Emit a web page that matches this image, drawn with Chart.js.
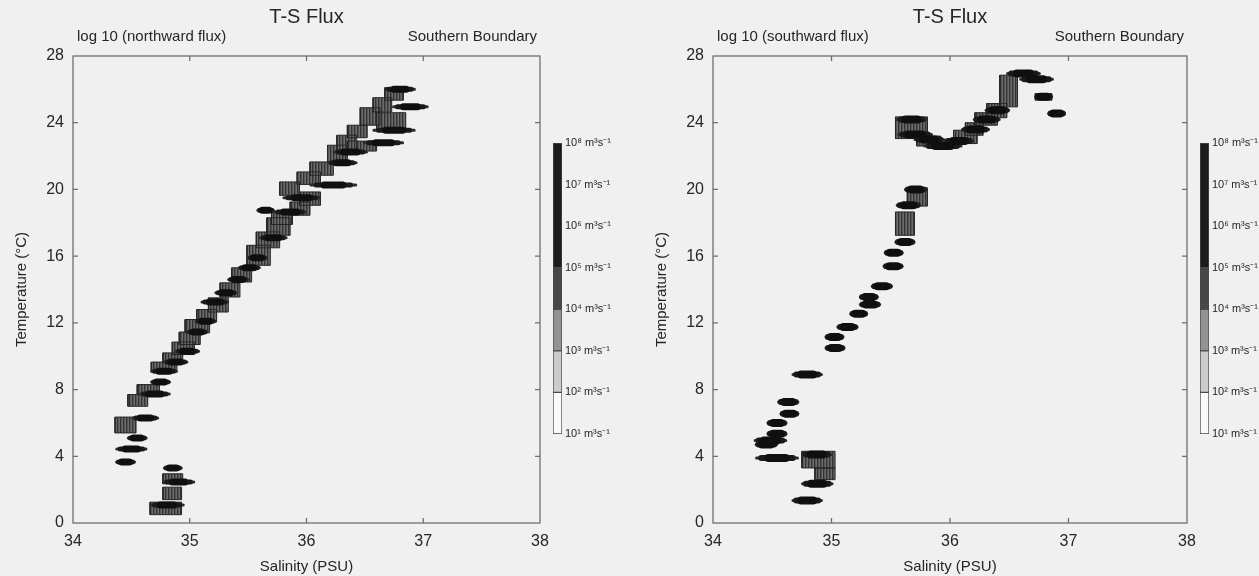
<!DOCTYPE html>
<html>
<head>
<meta charset="utf-8">
<title>T-S Flux</title>
<script src="https://cdn.jsdelivr.net/npm/chart.js@4.4.1/dist/chart.umd.min.js"></script>
<style>
  html, body { margin: 0; padding: 0; background: #f0f0f0; }
  #wrap { position: relative; width: 1259px; height: 576px; overflow: hidden; }
  #wrap canvas { position: absolute; }
</style>
</head>
<body>
<div id="wrap">
  <canvas id="northMain" width="630" height="576" style="left:0;top:0"></canvas>
  <canvas id="northBar" width="90" height="320" style="left:540px;top:128px"></canvas>
  <canvas id="southMain" width="619" height="576" style="left:640px;top:0"></canvas>
  <canvas id="southBar" width="72" height="320" style="left:1187px;top:128px"></canvas>
</div>
<script>
// axis ranges
const SAL_RANGE = [34, 38];
const TEMP_RANGE = [0, 28];
const SAL_STEP = 1;
const TEMP_STEP = 4;

// colour bar levels (m3/s)
const CBAR_LEVELS = [1e1, 1e2, 1e3, 1e4, 1e5, 1e6, 1e7, 1e8];
const CBAR_BANDS = [[1e1, 1e2], [1e2, 1e3], [1e3, 1e4], [1e4, 1e5], [1e5, 1e8]];
const CBAR_COLORS = ['#fafafa', '#cbcbcb', '#929292', '#474747', '#1c1c1c'];

// northward flux: shaded cells [salMin, salMax, tempMin, tempMax]
const NORTH_BOXES = [
  [34.66, 34.93, 0.5, 1.25], [34.77, 34.93, 1.4, 2.15], [34.77, 34.94, 2.35, 2.95],
  [34.36, 34.54, 5.4, 6.35], [34.47, 34.64, 7.0, 7.7], [34.55, 34.74, 7.7, 8.3],
  [34.67, 34.89, 9.05, 9.65], [34.77, 34.94, 9.6, 10.2], [34.85, 35.04, 10.1, 10.85],
  [34.91, 35.09, 10.7, 11.45], [34.96, 35.17, 11.4, 12.2], [35.06, 35.23, 12.05, 12.8],
  [35.16, 35.33, 12.65, 13.5], [35.26, 35.43, 13.55, 14.4], [35.36, 35.53, 14.45, 15.3],
  [35.49, 35.69, 15.45, 16.65], [35.57, 35.77, 16.5, 17.45], [35.66, 35.86, 17.25, 18.3],
  [35.7, 35.88, 17.9, 18.6], [35.86, 36.03, 18.45, 19.25], [35.94, 36.12, 19.05, 19.85],
  [35.77, 35.94, 19.65, 20.45], [35.92, 36.12, 20.3, 21.05], [36.03, 36.23, 20.85, 21.65],
  [36.18, 36.35, 21.65, 22.65], [36.26, 36.43, 22.25, 23.25], [36.35, 36.6, 22.3, 22.9],
  [36.35, 36.52, 23.1, 23.85], [36.46, 36.63, 23.85, 24.9], [36.6, 36.85, 23.6, 24.6],
  [36.57, 36.73, 24.65, 25.5], [36.67, 36.83, 25.35, 26.1],
];
// northward flux: high-flux cores [salMin, salMax, temp]
const NORTH_LENSES = [
  [34.66, 34.95, 1.08], [34.77, 35.04, 2.46], [34.78, 34.93, 3.3], [34.37, 34.53, 3.66],
  [34.37, 34.63, 4.44], [34.47, 34.63, 5.1], [34.51, 34.73, 6.3], [34.57, 34.83, 7.73],
  [34.67, 34.83, 8.45], [34.67, 34.89, 9.1], [34.78, 34.98, 9.65], [34.88, 35.08, 10.3],
  [34.98, 35.15, 11.45], [35.05, 35.22, 12.1], [35.1, 35.33, 13.25], [35.22, 35.4, 13.8],
  [35.33, 35.5, 14.6], [35.42, 35.6, 15.3], [35.5, 35.66, 15.9], [35.6, 35.83, 17.1],
  [35.58, 35.72, 18.75], [35.72, 36.0, 18.65], [35.8, 36.12, 19.5], [36.03, 36.43, 20.26],
  [36.18, 36.43, 21.6], [36.23, 36.52, 22.25], [36.49, 36.83, 22.8], [36.57, 36.93, 23.55],
  [36.74, 37.04, 24.95], [36.67, 36.93, 26.0],
];

// southward flux
const SOUTH_BOXES = [
  [35.54, 35.81, 23.05, 24.35], [35.72, 35.92, 22.6, 23.2], [35.85, 36.05, 22.5, 23.0],
  [36.03, 36.23, 22.75, 23.55], [36.13, 36.28, 23.25, 24.0], [36.21, 36.4, 23.85, 24.6],
  [36.31, 36.48, 24.3, 25.15], [36.42, 36.57, 24.95, 26.85], [36.72, 36.86, 25.35, 25.75],
  [35.64, 35.81, 19.0, 20.1], [35.54, 35.7, 17.25, 18.65], [34.75, 35.03, 3.3, 4.3],
  [34.86, 35.03, 2.6, 3.3],
];
const SOUTH_LENSES = [
  [35.55, 35.8, 24.2], [35.56, 35.85, 23.3], [35.7, 35.95, 23.0], [35.78, 36.1, 22.6],
  [35.95, 36.2, 22.9], [36.1, 36.33, 23.6], [36.2, 36.42, 24.2], [36.3, 36.5, 24.75],
  [36.48, 36.76, 26.95], [36.59, 36.87, 26.6], [36.72, 36.86, 25.55], [36.83, 36.97, 24.55],
  [35.62, 35.8, 20.0], [35.55, 35.75, 19.05], [35.54, 35.7, 16.85], [35.45, 35.6, 16.2],
  [35.44, 35.6, 15.4], [35.34, 35.51, 14.2], [35.24, 35.39, 13.55], [35.24, 35.41, 13.1],
  [35.16, 35.3, 12.55], [35.05, 35.22, 11.75], [34.95, 35.1, 11.15], [34.95, 35.11, 10.5],
  [34.67, 34.92, 8.9], [34.55, 34.72, 7.25], [34.57, 34.72, 6.55], [34.46, 34.62, 6.0],
  [34.46, 34.62, 5.35], [34.35, 34.62, 4.95], [34.36, 34.54, 4.7], [34.36, 34.72, 3.9],
  [34.75, 35.0, 4.1], [34.75, 35.01, 2.35], [34.67, 34.92, 1.35],
];

const FONT = '"Liberation Sans", Arial, sans-serif';
const INK = '#262626';
const SUP = ['⁰', '¹', '²', '³', '⁴', '⁵', '⁶', '⁷', '⁸', '⁹'];

Chart.defaults.font.family = FONT;
Chart.defaults.color = INK;

// vertical stripes like the scanned contour shading
function stripePattern() {
  const c = document.createElement('canvas');
  c.width = 3;
  c.height = 4;
  const g = c.getContext('2d');
  ['#333333', '#565656', '#6c6c6c'].forEach((col, i) => {
    g.fillStyle = col;
    g.fillRect(i, 0, 1, 4);
  });
  return g.createPattern(c, 'repeat');
}

function boxPoints(boxes) {
  const pts = [];
  boxes.forEach(([s0, s1, t0, t1]) => {
    pts.push({ x: s0, y: t0 }, { x: s1, y: t0 }, { x: s1, y: t1 }, { x: s0, y: t1 }, { x: s0, y: t0 });
    pts.push({ x: s0, y: null });
  });
  return pts;
}

// shrink = 0 gives the whole lens, larger values keep only its middle (thick part)
function lensPoints(lenses, shrink) {
  const pts = [];
  lenses.forEach(([s0, s1, t]) => {
    const cut = (s1 - s0) * shrink;
    pts.push({ x: s0 + cut, y: t }, { x: s1 - cut, y: t }, { x: s1, y: null });
  });
  return pts;
}

function lensLayer(lenses, shrink, width, color, order) {
  return {
    data: lensPoints(lenses, shrink),
    borderColor: color,
    borderWidth: width,
    borderCapStyle: 'round',
    pointRadius: 0,
    fill: false,
    order,
  };
}

// frame, inward ticks and the heading texts
function makeDecor(title, leftText, rightText) {
  return {
    id: 'decor',
    afterDraw(chart) {
      const { ctx, chartArea: a, scales } = chart;
      ctx.save();
      ctx.strokeStyle = '#6f6f6f';
      ctx.lineWidth = 1.3;
      ctx.strokeRect(a.left, a.top, a.right - a.left, a.bottom - a.top);

      ctx.beginPath();
      scales.x.ticks.forEach((t) => {
        if (t.value <= SAL_RANGE[0] || t.value >= SAL_RANGE[1]) return;
        const px = scales.x.getPixelForValue(t.value);
        ctx.moveTo(px, a.bottom); ctx.lineTo(px, a.bottom - 5);
        ctx.moveTo(px, a.top); ctx.lineTo(px, a.top + 5);
      });
      scales.y.ticks.forEach((t) => {
        if (t.value <= TEMP_RANGE[0] || t.value >= TEMP_RANGE[1]) return;
        const py = scales.y.getPixelForValue(t.value);
        ctx.moveTo(a.left, py); ctx.lineTo(a.left + 5, py);
        ctx.moveTo(a.right, py); ctx.lineTo(a.right - 5, py);
      });
      ctx.stroke();

      ctx.fillStyle = INK;
      ctx.textBaseline = 'middle';
      ctx.font = '20px ' + FONT;
      ctx.textAlign = 'center';
      ctx.fillText(title, (a.left + a.right) / 2, 17);
      ctx.font = '15px ' + FONT;
      ctx.textAlign = 'left';
      ctx.fillText(leftText, a.left + 4, 37);
      ctx.textAlign = 'right';
      ctx.fillText(rightText, a.right - 3, 37);
      ctx.restore();
    },
  };
}

function drawPanel(id, boxes, lenses, leftText, padRight, coreWidth) {
  const pattern = stripePattern();
  return new Chart(document.getElementById(id), {
    type: 'line',
    data: {
      datasets: [
        lensLayer(lenses, 0.3, coreWidth, '#0f0f0f', 0),
        lensLayer(lenses, 0.13, coreWidth - 2, '#1a1a1a', 1),
        lensLayer(lenses, 0.02, 3, '#2e2e2e', 2),
        {
          data: boxPoints(boxes),
          borderColor: '#262626',
          borderWidth: 1,
          backgroundColor: pattern,
          pointRadius: 0,
          fill: 'shape',
          order: 3,
        },
      ],
    },
    options: {
      responsive: false,
      animation: false,
      spanGaps: false,
      layout: { padding: { top: 56, bottom: 0, left: 0, right: padRight } },
      plugins: { legend: { display: false }, tooltip: { enabled: false } },
      scales: {
        x: {
          type: 'linear',
          min: SAL_RANGE[0],
          max: SAL_RANGE[1],
          grid: { display: false, drawTicks: false },
          border: { display: false },
          ticks: { stepSize: SAL_STEP, padding: 9, font: { size: 16 } },
          title: { display: true, text: 'Salinity (PSU)', font: { size: 15 }, padding: { top: 0, bottom: 0 } },
          afterFit: (s) => { s.height = 53; },
        },
        y: {
          type: 'linear',
          min: TEMP_RANGE[0],
          max: TEMP_RANGE[1],
          grid: { display: false, drawTicks: false },
          border: { display: false },
          ticks: { stepSize: TEMP_STEP, padding: 9, font: { size: 16 } },
          title: { display: true, text: 'Temperature (°C)', font: { size: 15 }, padding: { top: 13, bottom: 0 } },
          afterFit: (s) => { s.width = 73; },
        },
      },
    },
    plugins: [makeDecor('T-S Flux', leftText, 'Southern Boundary')],
  });
}

function drawColorBar(id, axisWidth, fontSize) {
  return new Chart(document.getElementById(id), {
    type: 'bar',
    data: {
      labels: [''],
      datasets: CBAR_BANDS.map((band, i) => ({
        data: [band],
        backgroundColor: CBAR_COLORS[i],
        borderColor: '#4a4a4a',
        borderWidth: 1,
        borderSkipped: false,
        grouped: false,
        barPercentage: 1,
        categoryPercentage: 1,
      })),
    },
    options: {
      responsive: false,
      animation: false,
      layout: { padding: { left: 13, top: 15, bottom: 14, right: 0 } },
      plugins: { legend: { display: false }, tooltip: { enabled: false } },
      scales: {
        x: { display: false },
        y: {
          type: 'logarithmic',
          position: 'right',
          min: CBAR_LEVELS[0],
          max: CBAR_LEVELS[CBAR_LEVELS.length - 1],
          grid: { display: false, drawTicks: false },
          border: { display: false },
          afterBuildTicks: (s) => { s.ticks = CBAR_LEVELS.map((v) => ({ value: v })); },
          ticks: {
            padding: 3,
            font: { size: fontSize },
            callback: (v) => '10' + SUP[Math.round(Math.log10(v))] + ' m³s⁻¹',
          },
          afterFit: (s) => { s.width = axisWidth; },
        },
      },
    },
  });
}

drawPanel('northMain', NORTH_BOXES, NORTH_LENSES, 'log 10 (northward flux)', 90, 7);
drawColorBar('northBar', 68, 11);
drawPanel('southMain', SOUTH_BOXES, SOUTH_LENSES, 'log 10 (southward flux)', 72, 8);
drawColorBar('southBar', 50, 11);
</script>
</body>
</html>
